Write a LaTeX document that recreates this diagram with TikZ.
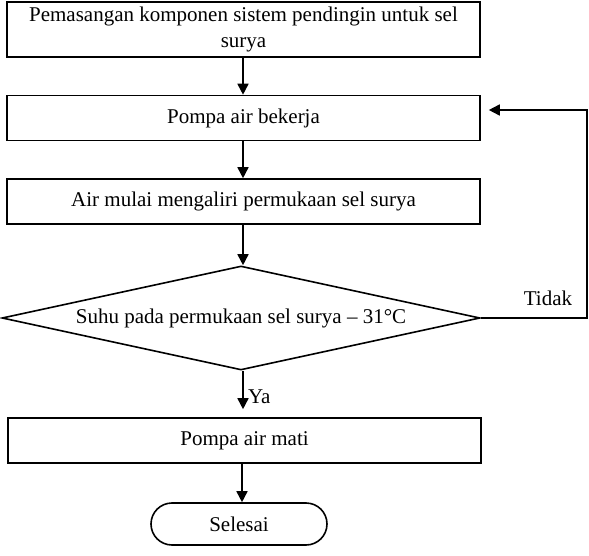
\documentclass[tikz,border=0pt]{standalone}
\usepackage{fontspec}
\setmainfont{Liberation Serif}
\usetikzlibrary{shapes.geometric,shapes.misc,arrows.meta}

\begin{document}
\begin{tikzpicture}[
      x=1pt, y=-1pt,  % pixel-like units, y going down
      line width=1.6pt,
      every node/.style={font=\fontsize{21}{26}\selectfont},
      kotak/.style={draw, rectangle, minimum width=473pt, minimum height=45pt, inner sep=0pt},  % process boxes
      keputusan/.style={draw, diamond, aspect=4.6, minimum width=478pt, minimum height=104pt, inner sep=0pt},
      akhir/.style={draw, rounded rectangle, minimum width=176pt, minimum height=42pt, inner sep=0pt},
      panah/.style={-{Triangle[length=11pt,width=11pt]}}
    ]
    \useasboundingbox (0,0) rectangle (589,556);
        \node[kotak, minimum height=55pt, align=center] (pasang) at (243.5,29.5) {Pemasangan komponen sistem pendingin untuk sel\\surya};
        \node[kotak] (pompanyala) at (243.5,118) {Pompa air bekerja};
        \node[kotak] (alir) at (243.5,201.5) {Air mulai mengaliri permukaan sel surya};
        \node[keputusan] (suhu) at (241,318) {Suhu pada permukaan sel surya -- 31°C};
        \node[kotak] (pompamati) at (244.5,440.5) {Pompa air mati};
        \node[akhir] (selesai) at (239,524) {Selesai};
        \coordinate (pojok) at (587,318);

        \draw[panah] (pasang.south -| 243,0) -- (pompanyala.north -| 243,0);
        \draw[panah] (pompanyala.south -| 243,0) -- (alir.north -| 243,0);
        \draw[panah] (alir.south -| 243,0) -- (suhu.north -| 243,0);
        \draw[panah, shorten >=8pt] (suhu.south -| 243,0) -- (pompamati.north -| 243,0) node[pos=0.55, right=1pt] {Ya};
        \draw[panah] (pompamati.south -| 242,0) -- (selesai.north -| 242,0);
        \draw[panah, shorten >=8pt] (suhu.east) -- (pojok) |- (pompanyala.east |- 0,110);
        \node (tidak) at (548,298) {Tidak};
    \end{tikzpicture}
\end{document}
